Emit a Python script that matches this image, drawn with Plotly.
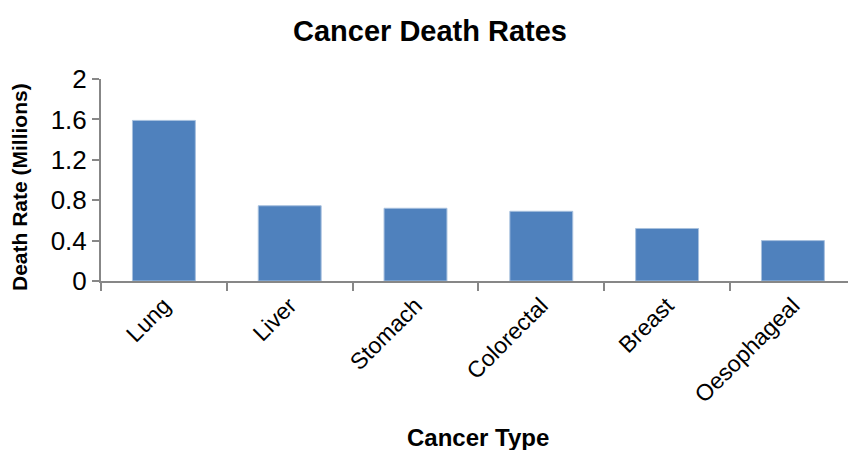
import plotly.graph_objects as go

# Cancer deaths per year by type, in millions
cancer_types = ["Lung", "Liver", "Stomach", "Colorectal", "Breast", "Oesophageal"]
death_rates = [1.59, 0.745, 0.72, 0.69, 0.52, 0.40]
y_ticks = [0, 0.4, 0.8, 1.2, 1.6, 2]
y_tick_labels = ["0", "0.4", "0.8", "1.2", "1.6", "2"]

W, H = 848, 450
left, right, top, bottom = 101, 0, 79, 169
plot_w = W - left - right
plot_h = H - top - bottom
cat_px = 125.8  # width of one category slot in pixels
x_max = -0.5 + plot_w / cat_px

axis_color = "#878787"
font_family = "Liberation Sans, Arial, sans-serif"


def px_to_paper_x(px):
    return (px - left) / plot_w


def px_to_paper_y(py):
    return (H - bottom - py) / plot_h


fig = go.Figure(
    go.Bar(
        x=cancer_types,
        y=death_rates,
        marker=dict(color="#4f81bd", line=dict(color="#a7c0de", width=1)),
        width=0.5,
    )
)

fig.update_layout(
    width=W,
    height=H,
    margin=dict(l=left, r=right, t=top, b=bottom, pad=0),
    paper_bgcolor="white",
    plot_bgcolor="white",
    showlegend=False,
    font=dict(family=font_family, color="black"),
    title=dict(
        text="<b>Cancer Death Rates</b>",
        x=430 / W,
        xanchor="center",
        y=1 - 31 / H,
        yanchor="middle",
        font=dict(size=29, family=font_family, color="black"),
    ),
    xaxis=dict(
        range=[-0.5, x_max],
        tickangle=-45,
        tickson="boundaries",
        ticks="outside",
        ticklen=8,
        tickwidth=1.5,
        tickcolor=axis_color,
        showline=True,
        linecolor=axis_color,
        linewidth=2,
        showgrid=False,
        tickfont=dict(size=23, family=font_family, color="black"),
        fixedrange=True,
    ),
    yaxis=dict(
        range=[0, 2],
        tickvals=y_ticks,
        ticktext=y_tick_labels,
        ticks="outside",
        ticklen=7,
        tickwidth=1.5,
        tickcolor=axis_color,
        showline=True,
        linecolor=axis_color,
        linewidth=2,
        showgrid=False,
        zeroline=False,
        tickfont=dict(size=26, family=font_family, color="black"),
        fixedrange=True,
    ),
    annotations=[
        dict(
            text="<b>Cancer Type</b>",
            xref="paper",
            yref="paper",
            x=px_to_paper_x(478),
            y=px_to_paper_y(437),
            xanchor="center",
            yanchor="middle",
            showarrow=False,
            font=dict(size=24, family=font_family, color="black"),
        ),
        dict(
            text="<b>Death Rate (Millions)</b>",
            xref="paper",
            yref="paper",
            x=px_to_paper_x(19),
            y=px_to_paper_y(187),
            xanchor="center",
            yanchor="middle",
            textangle=-90,
            showarrow=False,
            font=dict(size=21, family=font_family, color="black"),
        ),
    ],
)

fig.write_html("out.html")
